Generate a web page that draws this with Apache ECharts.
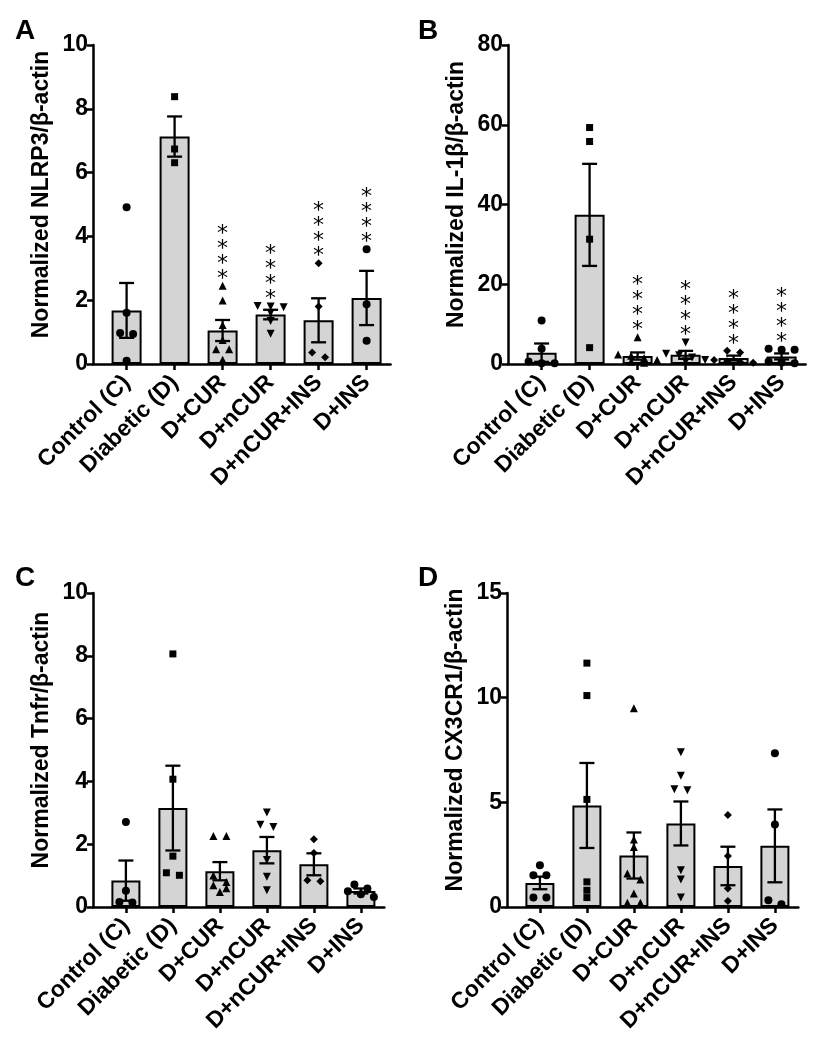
<!DOCTYPE html>
<html>
<head>
<meta charset="utf-8">
<script src="https://cdn.jsdelivr.net/npm/echarts@6/dist/echarts.min.js"></script>
<style>
  html, body { margin: 0; padding: 0; background: #fff; }
  #chart { width: 823px; height: 1050px; }
</style>
</head>
<body>
<div id="chart"></div>
<script>
// ---------- DATA ----------
const categories = ['Control (C)', 'Diabetic (D)', 'D+CUR', 'D+nCUR', 'D+nCUR+INS', 'D+INS'];

// Panel A: NLRP3
const nlrp3Mean = [1.68, 7.13, 1.05, 1.55, 1.37, 2.07];
const nlrp3Sem  = [0.86, 0.63, 0.33, 0.15, 0.69, 0.85];
const nlrp3Points = [
  [4.91, 1.61, 0.97, 0.94, 0.10],
  [8.38, 6.74, 6.31],
  [2.45, 1.99, 1.22, 0.75, 0.46, 0.46, 0.13],
  [1.82, 1.80, 1.78, 1.60, 1.35, 0.95],
  [3.16, 1.80, 0.36, 0.21],
  [3.60, 1.87, 0.73]
];
const nlrp3Stars = ['', '', '****', '****', '****', '****'];

// Panel B: IL-1β
const il1bMean = [2.84, 37.4, 2.0, 2.3, 1.5, 1.9];
const il1bSem  = [2.3, 12.8, 0.9, 1.0, 0.6, 0.75];
const il1bPoints = [
  [10.9, 3.8, 0.6, 0.2, 0.2],
  [59.3, 55.8, 31.3, 4.1],
  [6.7, 2.4, 2.1, 1.5, 1.0, 0.6, 0.3],
  [5.4, 2.6, 2.2, 1.6, 1.0, 0.6],
  [3.3, 2.9, 1.0, 0.7, 0.5, 0.3],
  [3.8, 3.6, 3.6, 0.6, 0.4, 0.2]
];
const il1bStars = ['', '', '****', '****', '****', '****'];

// Panel C: Tnfr
const tnfrMean = [0.84, 3.15, 1.14, 1.81, 1.36, 0.51];
const tnfrSem  = [0.64, 1.35, 0.29, 0.42, 0.35, 0.08];
const tnfrPoints = [
  [2.71, 0.52, 0.16, 0.14],
  [8.06, 4.07, 1.62, 1.09, 1.01],
  [2.26, 2.26, 1.00, 0.80, 0.69, 0.60, 0.48],
  [3.01, 2.62, 2.55, 1.50, 0.96, 0.53],
  [2.16, 1.72, 0.85, 0.82],
  [0.72, 0.59, 0.50, 0.41, 0.32]
];

// Panel D: CX3CR1
const cx3cr1Mean = [1.15, 4.85, 2.46, 3.99, 1.96, 2.92];
const cx3cr1Sem  = [0.30, 2.03, 1.10, 1.05, 0.92, 1.74];
const cx3cr1Points = [
  [1.99, 1.52, 1.52, 0.45, 0.45],
  [11.65, 10.1, 5.14, 1.20, 0.80, 0.45],
  [9.49, 3.22, 2.87, 1.60, 1.31, 0.64, 0.20, 0.20],
  [7.39, 6.27, 5.62, 5.58, 1.76, 1.31, 0.45],
  [4.39, 2.44, 0.88, 0.29],
  [7.34, 3.94, 0.32, 0.13]
];

const yMaxA = 10, yStepA = 2;
const yMaxB = 80, yStepB = 20;
const yMaxC = 10, yStepC = 2;
const yMaxD = 15, yStepD = 5;

// ---------- LAYOUT / STYLE ----------
const FONT = 'Liberation Sans';
const X_MIN = -0.7, X_MAX = 5.5;
const groupSymbols = [
  { symbol: 'circle', size: 8, rot: 0 },
  { symbol: 'rect', size: 7, rot: 0 },
  { symbol: 'triangle', size: 8, rot: 0 },
  { symbol: 'triangle', size: 8, rot: 180 },
  { symbol: 'diamond', size: 8, rot: 0 },
  { symbol: 'circle', size: 8, rot: 0 }
];

const panels = [
  { letter: 'A', name: 'Normalized NLRP3/β-actin', mean: nlrp3Mean, sem: nlrp3Sem, pts: nlrp3Points, stars: nlrp3Stars,
    yMax: yMaxA, yStep: yStepA, grid: { left: 93, top: 45, w: 297.6, h: 319 }, unit: 48, lx: 10, ly: 12 },
  { letter: 'B', name: 'Normalized IL-1β/β-actin', mean: il1bMean, sem: il1bSem, pts: il1bPoints, stars: il1bStars,
    yMax: yMaxB, yStep: yStepB, grid: { left: 508, top: 45, w: 297.6, h: 319 }, unit: 48, lx: 413, ly: 12 },
  { letter: 'C', name: 'Normalized Tnfr/β-actin', mean: tnfrMean, sem: tnfrSem, pts: tnfrPoints, stars: null,
    yMax: yMaxC, yStep: yStepC, grid: { left: 93, top: 593, w: 291.4, h: 314 }, unit: 47, lx: 10, ly: 559 },
  { letter: 'D', name: 'Normalized CX3CR1/β-actin', mean: cx3cr1Mean, sem: cx3cr1Sem, pts: cx3cr1Points, stars: null,
    yMax: yMaxD, yStep: yStepD, grid: { left: 507, top: 593, w: 291.4, h: 314 }, unit: 47, lx: 413, ly: 559 }
];

function swarmOffsets(vals, pxPerVal, unitPx) {
  const order = vals.map((v, i) => ({ v, i })).sort((a, b) => b.v - a.v);
  const rows = [];
  order.forEach(o => {
    const r = rows[rows.length - 1];
    if (r && (r[0].v - o.v) * pxPerVal < 6.5) r.push(o); else rows.push([o]);
  });
  const off = new Array(vals.length).fill(0);
  rows.forEach(r => r.forEach((o, k) => { off[o.i] = (k - (r.length - 1) / 2) * 13 / unitPx; }));
  return off;
}

const grids = [], xAxes = [], yAxes = [], series = [], titles = [];
const idx = categories.map((_, i) => i);

panels.forEach((p, pi) => {
  grids.push({ left: p.grid.left, top: p.grid.top, width: p.grid.w, height: p.grid.h, outerBoundsMode: 'none', containLabel: false });
  xAxes.push({
    gridIndex: pi, type: 'value', min: X_MIN, max: X_MAX,
    axisLine: { show: true, onZero: false, lineStyle: { color: '#000', width: 2.5 } },
    axisTick: { show: true, customValues: idx, length: 6, lineStyle: { color: '#000', width: 2.5 } },
    axisLabel: { customValues: idx, formatter: v => categories[Math.round(v)], rotate: 45, margin: 15,
      fontFamily: FONT, fontWeight: 'bold', fontSize: 23, color: '#000' },
    splitLine: { show: false }
  });
  yAxes.push({
    gridIndex: pi, type: 'value', min: 0, max: p.yMax, interval: p.yStep,
    name: p.name, nameLocation: 'middle', nameGap: 40,
    nameTextStyle: { fontFamily: FONT, fontWeight: 'bold', fontSize: 23, color: '#000', padding: [0, 0, 0, 20] },
    axisLine: { show: true, onZero: false, lineStyle: { color: '#000', width: 2.5 } },
    axisTick: { show: true, length: 6, lineStyle: { color: '#000', width: 2.5 } },
    axisLabel: { margin: 5, fontFamily: FONT, fontWeight: 'bold', fontSize: 23, color: '#000' },
    splitLine: { show: false }
  });
  titles.push({ text: p.letter, left: p.lx, top: p.ly,
    textStyle: { fontFamily: FONT, fontWeight: 'bold', fontSize: 28, color: '#000' } });

  const barW = p.unit === 48 ? 30 : 29;
  series.push({
    type: 'bar', xAxisIndex: pi, yAxisIndex: pi, barWidth: barW, z: 2,
    itemStyle: { color: '#d4d4d4', borderColor: '#000', borderWidth: 2 },
    data: p.mean.map((m, i) => [i, m]),
    silent: true, animation: false
  });
  series.push({
    type: 'custom', xAxisIndex: pi, yAxisIndex: pi, z: 3, animation: false, silent: true,
    data: p.mean.map((m, i) => [i, m, p.sem[i]]),
    renderItem: (params, api) => {
      const x = api.value(0), m = api.value(1), s = api.value(2);
      const t = api.coord([x, m + s]), b = api.coord([x, Math.max(0, m - s)]);
      const cw = 7.5;
      const st = { stroke: '#000', lineWidth: 2.3 };
      return { type: 'group', children: [
        { type: 'line', shape: { x1: t[0], y1: t[1], x2: b[0], y2: b[1] }, style: st },
        { type: 'line', shape: { x1: t[0] - cw, y1: t[1], x2: t[0] + cw, y2: t[1] }, style: st },
        { type: 'line', shape: { x1: b[0] - cw, y1: b[1], x2: b[0] + cw, y2: b[1] }, style: st }
      ] };
    }
  });
  const pxPerVal = p.grid.h / p.yMax;
  const scatterData = [];
  p.pts.forEach((vals, gi) => {
    const off = swarmOffsets(vals, pxPerVal, p.unit);
    vals.forEach((v, k) => {
      const s = groupSymbols[gi];
      scatterData.push({ value: [gi + off[k], v], symbol: s.symbol, symbolSize: s.size, symbolRotate: s.rot });
    });
  });
  series.push({
    type: 'scatter', xAxisIndex: pi, yAxisIndex: pi, z: 4, animation: false, silent: true,
    itemStyle: { color: '#000', opacity: 1 },
    data: scatterData
  });
  if (p.stars) {
    series.push({
      type: 'custom', xAxisIndex: pi, yAxisIndex: pi, z: 5, animation: false, silent: true,
      data: p.stars.map((s, i) => [i, Math.max(...p.pts[i]), s.length]),
      renderItem: (params, api) => {
        const n = api.value(2);
        const c = api.coord([api.value(0), api.value(1)]);
        const children = [];
        for (let k = 0; k < n; k++) {
          children.push({ type: 'text', x: c[0], y: c[1] - 10 - k * 15 + 3,
            style: { text: '*', fontFamily: 'DejaVu Sans', fontSize: 22, fill: '#000', align: 'center', verticalAlign: 'middle' } });
        }
        return { type: 'group', children };
      }
    });
  }
});

const chart = echarts.init(document.getElementById('chart'), null, { renderer: 'canvas' });
chart.setOption({
  animation: false,
  backgroundColor: '#fff',
  textStyle: { fontFamily: FONT },
  title: titles,
  grid: grids,
  xAxis: xAxes,
  yAxis: yAxes,
  series
});
</script>
</body>
</html>
